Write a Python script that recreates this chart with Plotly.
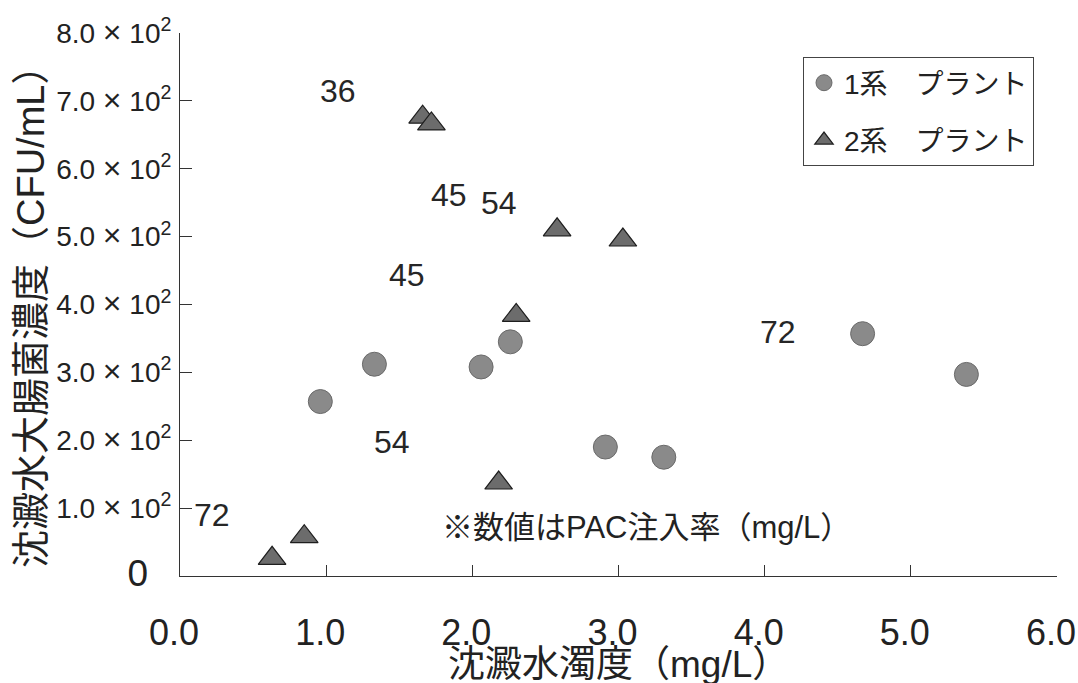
import plotly.graph_objects as go

# Plant line 1: settled-water turbidity (mg/L) vs coliform count (CFU/mL)
plant1_turbidity = [0.96, 1.33, 2.06, 2.26, 2.91, 3.31, 4.67, 5.38]
plant1_coliform = [257, 312, 308, 345, 190, 175, 357, 297]

# Plant line 2
plant2_turbidity = [1.66, 1.72, 2.58, 3.03, 2.30, 2.18, 0.85, 0.63]
plant2_coliform = [676, 666, 510, 495, 384, 137, 58, 26]

# PAC dosing rate labels (mg/L) and where they sit in data units
pac_labels = ["36", "45", "54", "45", "54", "72", "72"]
pac_label_x = [1.08, 1.84, 2.18, 1.55, 1.45, 0.22, 4.09]
pac_label_y = [715, 561, 549, 443, 198, 90, 360]

x_ticks = [0, 1, 2, 3, 4, 5, 6]
x_tick_text = ["0.0", "1.0", "2.0", "3.0", "4.0", "5.0", "6.0"]
y_ticks = [0, 100, 200, 300, 400, 500, 600, 700, 800]
y_tick_text = ["<span style='font-size:37px'>0</span>\u00a0\u00a0\u00a0"] + [
    f"{v / 100:.1f} <span style='font-size:32px'>×</span> 10<sup>2</sup>" for v in y_ticks[1:]
]

FONT = "Liberation Sans, Arial, Noto Sans CJK JP, sans-serif"

fig = go.Figure()
fig.add_trace(go.Scatter(
    x=plant1_turbidity, y=plant1_coliform, mode="markers",
    name="1系\u3000プラント", legendgroup="p1",
    marker=dict(symbol="circle", size=24, color="#8a8a8a",
                line=dict(color="#6a6a6a", width=1)),
))
fig.add_trace(go.Scatter(
    x=plant2_turbidity, y=plant2_coliform, mode="markers",
    name="2系\u3000プラント", legendgroup="p2",
    marker=dict(symbol="triangle-up", size=24, color="#6c6c6c",
                line=dict(color="#1e1e1e", width=1.2)),
))

for txt, lx, ly in zip(pac_labels, pac_label_x, pac_label_y):
    fig.add_annotation(x=lx, y=ly, xref="x", yref="y", text=txt,
                       showarrow=False, xanchor="center", yanchor="middle",
                       font=dict(family=FONT, size=32, color="#262626"))

# footnote about the labels
fig.add_annotation(x=(440 - 180) / 877, y=(576 - 527) / 543, xref="paper", yref="paper",
                   text="※数値はPAC注入率（mg/L）", showarrow=False,
                   xanchor="left", yanchor="middle",
                   font=dict(family=FONT, size=31, color="#222222"))

# axis titles
fig.add_annotation(x=0.5, y=(576 - 664) / 543, xref="paper", yref="paper",
                   text="沈澱水濁度（mg/L）", showarrow=False,
                   xanchor="center", yanchor="middle",
                   font=dict(family=FONT, size=37, color="#222222"))
fig.add_annotation(x=(31 - 180) / 877, y=(576 - 308) / 543, xref="paper", yref="paper",
                   text="沈澱水大腸菌濃度（CFU/mL）", showarrow=False, textangle=-90,
                   xanchor="center", yanchor="middle",
                   font=dict(family=FONT, size=38, color="#222222"))

fig.update_xaxes(
    range=[0, 6], tickvals=x_ticks, ticktext=x_tick_text,
    showline=True, linecolor="#333333", linewidth=1,
    ticks="inside", ticklen=11, tickcolor="#333333", tickwidth=1,
    showgrid=False, zeroline=False, automargin=False,
    tickfont=dict(family=FONT, size=36, color="#222222"),
    ticklabelstandoff=25, ticklabelshift=-6,
)
fig.update_yaxes(
    range=[0, 800], tickvals=y_ticks, ticktext=y_tick_text,
    showline=True, linecolor="#333333", linewidth=1,
    ticks="inside", ticklen=12, tickcolor="#333333", tickwidth=1,
    showgrid=False, zeroline=False, automargin=False,
    tickfont=dict(family=FONT, size=28, color="#222222"),
    ticklabelstandoff=2,
)

fig.update_layout(
    width=1078, height=683,
    margin=dict(l=180, r=21, t=33, b=107),
    paper_bgcolor="white", plot_bgcolor="white",
    showlegend=True,
    legend=dict(
        x=(803 - 180) / 877, y=(576 - 57) / 543, xanchor="left", yanchor="top",
        bordercolor="#444444", borderwidth=1, bgcolor="white",
        font=dict(family=FONT, size=28, color="#222222"),
        tracegroupgap=18, itemsizing="trace",
    ),
)

fig.write_html("out.html")
